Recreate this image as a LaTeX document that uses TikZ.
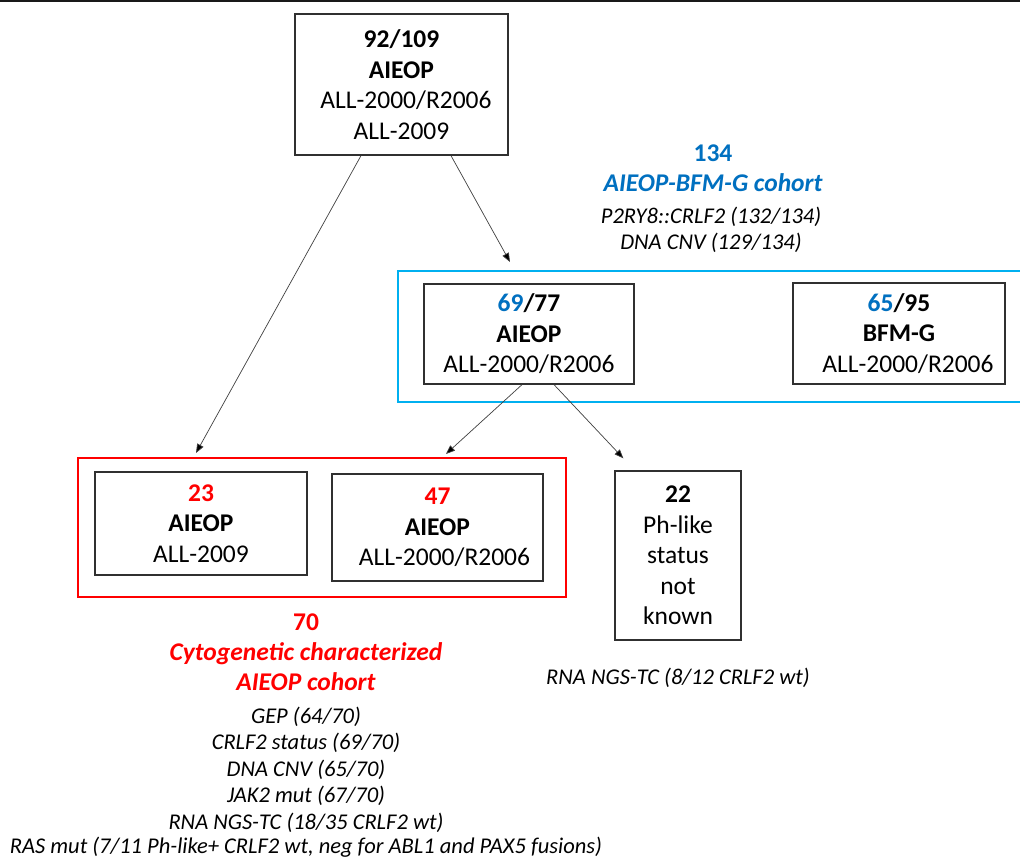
\documentclass[tikz,border=0pt]{standalone}
\usepackage{fontspec}
\setmainfont{Carlito}
\usetikzlibrary{arrows.meta,calc}
\definecolor{cblue}{HTML}{0070C0}
\definecolor{lblue}{HTML}{00B0F0}
\definecolor{cred}{HTML}{FF0000}
\definecolor{edgec}{HTML}{303030}
\begin{document}
\begin{tikzpicture}[x=1pt,y=-1pt,
  box/.style={draw=edgec, line width=1.3pt, align=center, inner sep=0pt,
    font=\fontsize{25.5}{30.5}\selectfont},
  grp/.style={line width=2pt, inner sep=0pt},
  lbl/.style={inner sep=0pt, anchor=base, align=center},
  big/.style={font=\fontsize{25.5}{30}\selectfont},
  small/.style={font=\fontsize{22.5}{26}\selectfont\itshape},
  arr/.style={draw=black!75, line width=0.7pt, -{Triangle[length=9pt,width=7pt,fill=black]}}]
\useasboundingbox (0,0) rectangle (1020,858);
\fill[white] (0,0) rectangle (1020,858);
\draw[line width=2pt, black!90] (0,1) -- (1020,1);

% top box
\node[box, minimum width=213, minimum height=141] (top) at (401.5,84.5)
  {\textbf{92/109}\\\textbf{AIEOP}\\\hspace*{9pt}ALL-2000/R2006\\ALL-2009};

% cohort label (blue)
\node[lbl, big, text=cblue] (n134) at (713,162) {\textbf{134}};
\node[lbl, big, text=cblue] (ncoh) at (713,192) {\bfseries\itshape AIEOP-BFM-G cohort};
\node[lbl, small] (np2) at (711,224) {P2RY8::CRLF2 (132/134)};
\node[lbl, small] (ndna) at (711,250) {DNA CNV (129/134)};

% blue group
\node[grp, draw=lblue, minimum width=643, minimum height=131, anchor=north west] (blue) at (397,270) {};
\node[box, minimum width=210, minimum height=100] (a69) at (529,334)
  {\textbf{\textcolor{cblue}{69}/77}\\\textbf{AIEOP}\\ALL-2000/R2006};
\node[box, minimum width=212, minimum height=101] (bfm) at (899,333.5)
  {\textbf{\textcolor{cblue}{65}/95}\\\textbf{BFM-G}\\\hspace*{18pt}ALL-2000/R2006};

% red group
\node[grp, draw=cred, minimum width=488, minimum height=139] (red) at (322,527.5) {};
\node[box, minimum width=212, minimum height=103] (a23) at (201,523.5)
  {\textbf{\textcolor{cred}{23}}\\\textbf{AIEOP}\\ALL-2009};
\node[box, minimum width=211, minimum height=107] (a47) at (437.5,527.5)
  {\textbf{\textcolor{cred}{47}}\\\textbf{AIEOP}\\\hspace*{14pt}ALL-2000/R2006};

% 22 box
\node[box, minimum width=126, minimum height=169] (a22) at (678,555.5)
  {\textbf{22}\\Ph-like\\status\\not\\known};

% red cohort label
\node[lbl, big, text=cred] (n70) at (306,630) {\textbf{70}};
\node[lbl, big, text=cred] (ncyt) at (306,660) {\bfseries\itshape Cytogenetic characterized};
\node[lbl, big, text=cred] (ncoh2) at (306,690) {\bfseries\itshape AIEOP cohort};
\node[lbl, small] (m1) at (306,723) {GEP (64/70)};
\node[lbl, small] (m2) at (306,749) {CRLF2 status (69/70)};
\node[lbl, small] (m3) at (306,776) {DNA CNV (65/70)};
\node[lbl, small] (m4) at (306,802) {JAK2 mut (67/70)};
\node[lbl, small] (m5) at (306,829) {RNA NGS-TC (18/35 CRLF2 wt)};
\node[lbl, small] (m6) at (306,853) {RAS mut (7/11 Ph-like+ CRLF2 wt, neg for ABL1 and PAX5 fusions)};

\node[lbl, small] (r22) at (678,684) {RNA NGS-TC (8/12 CRLF2 wt)};

% arrows
\draw[arr] ([xshift=-40.5pt]top.south) -- ($(red.north west)+(119,-4)$);
\draw[arr] ([xshift=49.5pt]top.south) -- ($(blue.north west)+(113,-8)$);
\draw[arr] ([xshift=-7pt]a69.south) -- ($(red.north west)+(369,-3)$);
\draw[arr] ([xshift=25pt]a69.south) -- ($(a22.north west)+(9,-12)$);
\end{tikzpicture}
\end{document}
